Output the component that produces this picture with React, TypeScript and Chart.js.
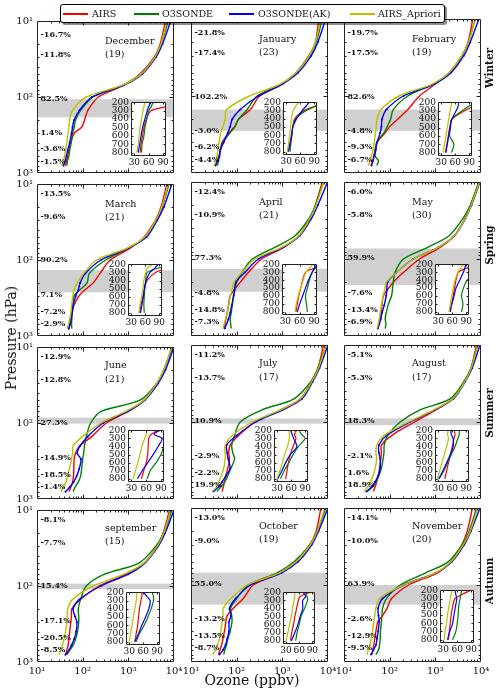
import React, { useEffect, useRef } from "react";
import { Chart, registerables } from "chart.js";
Chart.register(...registerables);

// ---------------- DATA ----------------
const PRESSURE = [10, 20, 30, 50, 70, 100, 150, 200, 250, 300, 400, 500, 600, 700, 800];

const DEC_AIRS = [6500, 5000, 3700, 1800, 800, 220, 130, 110, 95, 65, 55, 50, 47, 44, 42];
const DEC_SONDE = [7500, 5200, 3800, 1900, 750, 170, 90, 70, 65, 60, 56, 52, 50, 46, 45];
const DEC_SONDE_AK = [8500, 5600, 4000, 2000, 800, 160, 85, 65, 60, 57, 52, 47, 44, 41, 38];
const DEC_APRIORI = [7000, 5200, 3800, 1900, 750, 120, 60, 52, 50, 48, 45, 42, 40, 38, 35];

const JAN_AIRS = [6300, 5300, 3800, 2000, 1000, 320, 200, 110, 90, 68, 48, 44, 41, 38, 35];
const JAN_SONDE = [7500, 5500, 4000, 2000, 950, 280, 170, 110, 92, 72, 50, 44, 42, 40, 38];
const JAN_SONDE_AK = [8900, 6000, 4300, 2200, 1000, 300, 120, 80, 72, 64, 52, 44, 42, 38, 34];
const JAN_APRIORI = [7000, 5300, 3900, 2000, 900, 190, 60, 56, 50, 45, 41, 39, 37, 35, 32];

const FEB_AIRS = [6600, 5200, 3800, 2000, 1000, 450, 250, 150, 100, 80, 53, 48, 45, 42, 39];
const FEB_SONDE = [7500, 5300, 3900, 2100, 900, 250, 120, 105, 88, 75, 52, 50, 48, 57, 52];
const FEB_SONDE_AK = [9000, 5800, 4200, 2200, 950, 200, 85, 68, 66, 62, 53, 49, 46, 43, 40];
const FEB_APRIORI = [7500, 5300, 3800, 2000, 850, 160, 65, 53, 51, 49, 46, 43, 40, 37, 34];

const MAR_AIRS = [7000, 5200, 3900, 2200, 1100, 400, 240, 170, 110, 82, 64, 59, 55, 51, 48];
const MAR_SONDE = [7800, 5500, 4100, 2400, 1000, 320, 140, 125, 85, 64, 61, 59, 58, 57, 58];
const MAR_SONDE_AK = [9000, 6000, 4300, 2500, 1000, 250, 115, 88, 80, 70, 62, 58, 56, 53, 50];
const MAR_APRIORI = [7500, 5400, 4000, 2300, 950, 200, 105, 76, 64, 61, 57, 55, 52, 49, 46];

const APR_AIRS = [7500, 5300, 4000, 2300, 1100, 350, 180, 120, 90, 72, 66, 62, 58, 55, 52];
const APR_SONDE = [8000, 5300, 3800, 1900, 700, 220, 130, 100, 92, 86, 80, 76, 72, 74, 76];
const APR_SONDE_AK = [9800, 6000, 4300, 2400, 1050, 300, 150, 96, 90, 86, 78, 72, 66, 60, 55];
const APR_APRIORI = [8000, 5500, 4000, 2300, 1000, 250, 130, 88, 80, 73, 67, 62, 57, 53, 50];

const MAY_AIRS = [9000, 6000, 4500, 2600, 1300, 450, 200, 120, 90, 73, 68, 65, 62, 59, 56];
const MAY_SONDE = [9000, 5800, 4000, 2000, 700, 200, 130, 120, 115, 110, 92, 84, 80, 83, 80];
const MAY_SONDE_AK = [9500, 6200, 4500, 2600, 1200, 330, 140, 90, 87, 84, 76, 68, 64, 59, 55];
const MAY_APRIORI = [9300, 6100, 4500, 2600, 1200, 330, 140, 85, 78, 72, 66, 62, 59, 56, 53];

const JUN_AIRS = [9000, 6000, 4300, 2200, 1000, 330, 160, 85, 70, 65, 64, 63, 60, 55, 50];
const JUN_SONDE = [9500, 6000, 4200, 1800, 260, 150, 120, 110, 105, 100, 95, 90, 80, 68, 62];
const JUN_SONDE_AK = [10000, 6500, 4500, 2300, 1000, 280, 130, 88, 76, 92, 84, 74, 63, 52, 42];
const JUN_APRIORI = [9000, 6000, 4200, 2200, 900, 250, 100, 62, 60, 57, 51, 47, 43, 38, 33];

const JUL_AIRS = [8000, 6000, 4300, 2500, 900, 250, 110, 72, 67, 70, 64, 58, 54, 51, 48];
const JUL_SONDE = [9000, 6000, 4200, 1800, 350, 120, 90, 78, 82, 90, 75, 64, 55, 45, 37];
const JUL_SONDE_AK = [10000, 6500, 4600, 2700, 1000, 260, 100, 60, 62, 65, 72, 58, 48, 40, 31];
const JUL_APRIORI = [9000, 6200, 4400, 2500, 900, 220, 80, 56, 56, 56, 52, 46, 41, 36, 29];

const AUG_AIRS = [8000, 6000, 4300, 2400, 1000, 350, 110, 66, 66, 64, 60, 56, 52, 48, 44];
const AUG_SONDE = [8500, 6000, 4200, 2100, 450, 170, 90, 76, 75, 72, 66, 58, 50, 42, 32];
const AUG_SONDE_AK = [9500, 6400, 4500, 2500, 950, 280, 85, 58, 58, 62, 62, 56, 48, 40, 31];
const AUG_APRIORI = [8500, 6100, 4400, 2400, 900, 260, 75, 52, 50, 52, 48, 43, 38, 33, 28];

const SEP_AIRS = [8000, 5800, 4200, 2200, 900, 230, 90, 58, 57, 55, 52, 50, 48, 45, 42];
const SEP_SONDE = [9000, 6000, 4000, 1700, 300, 120, 90, 80, 82, 82, 77, 70, 62, 52, 45];
const SEP_SONDE_AK = [10000, 6400, 4500, 2300, 1000, 250, 85, 62, 68, 75, 72, 65, 57, 50, 42];
const SEP_APRIORI = [8500, 6000, 4300, 2200, 800, 170, 60, 47, 46, 45, 42, 39, 36, 33, 30];

const OCT_AIRS = [7000, 5500, 4000, 2000, 900, 230, 140, 85, 62, 58, 54, 50, 47, 43, 40];
const OCT_SONDE = [9000, 5800, 4000, 1800, 750, 180, 100, 74, 78, 79, 72, 64, 60, 55, 52];
const OCT_SONDE_AK = [10000, 6200, 4400, 2200, 950, 200, 95, 70, 75, 68, 68, 62, 57, 50, 42];
const OCT_APRIORI = [8500, 5800, 4100, 2000, 850, 170, 75, 51, 50, 48, 45, 42, 38, 34, 30];

const NOV_AIRS = [6500, 5000, 3800, 2200, 1100, 260, 110, 88, 70, 55, 50, 47, 45, 43, 41];
const NOV_SONDE = [8000, 5500, 3900, 1900, 600, 170, 85, 70, 68, 66, 63, 62, 60, 57, 50];
const NOV_SONDE_AK = [9500, 6000, 4300, 2300, 1000, 200, 70, 56, 57, 59, 56, 53, 50, 44, 39];
const NOV_APRIORI = [8500, 5800, 4100, 2200, 1000, 200, 60, 50, 47, 45, 42, 39, 37, 34, 32];

const PCT_DEC = ["-16.7%", "-11.8%", "82.5%", "1.4%", "-3.6%", "-1.5%"];
const PCT_JAN = ["-21.8%", "-17.4%", "102.2%", "-3.0%", "-6.2%", "-4.4%"];
const PCT_FEB = ["-19.7%", "-17.5%", "82.6%", "-4.8%", "-9.3%", "-6.7%"];
const PCT_MAR = ["-13.5%", "-9.6%", "90.2%", "7.1%", "-7.2%", "-2.9%"];
const PCT_APR = ["-12.4%", "-10.9%", "77.3%", "-4.8%", "-14.8%", "-7.3%"];
const PCT_MAY = ["-6.0%", "-5.8%", "59.9%", "-7.6%", "-13.4%", "-6.9%"];
const PCT_JUN = ["-12.9%", "-12.8%", "27.3%", "-14.9%", "-18.5%", "-1.4%"];
const PCT_JUL = ["-11.2%", "-13.7%", "10.9%", "-2.9%", "-2.2%", "19.9%"];
const PCT_AUG = ["-5.1%", "-5.3%", "18.3%", "-2.1%", "1.6%", "18.9%"];
const PCT_SEP = ["-8.1%", "-7.7%", "15.4%", "-17.1%", "-20.5%", "-8.5%"];
const PCT_OCT = ["-13.0%", "-9.0%", "55.0%", "-13.2%", "-13.5%", "-8.7%"];
const PCT_NOV = ["-14.1%", "-10.0%", "63.9%", "-2.6%", "-12.9%", "-9.5%"];

const MONTHS = ["December", "January", "February", "March", "April", "May", "June", "July", "August", "september", "October", "November"];
const COUNTS = [19, 23, 19, 21, 21, 30, 21, 17, 17, 15, 19, 20];
const BAND_TOP = [107, 150, 150, 136, 134, 73, 85, 90, 90, 93, 69, 100];
const BAND_BOTTOM = [185, 284, 284, 266, 266, 218, 102, 105, 110, 110, 180, 180];

const SEASONS = ["Winter", "Spring", "Summer", "Autumn"];
const SERIES_LABELS = ["AIRS", "O3SONDE", "O3SONDE(AK)", "AIRS_Apriori"];
const X_TICKS = [10, 100, 1000, 10000];
const Y_TICKS = [10, 100, 1000];
const INSET_X_TICKS = [30, 60, 90];
const INSET_Y_TICKS = [200, 300, 400, 500, 600, 700, 800];

const PANEL_SERIES = [
  [DEC_AIRS, DEC_SONDE, DEC_SONDE_AK, DEC_APRIORI],
  [JAN_AIRS, JAN_SONDE, JAN_SONDE_AK, JAN_APRIORI],
  [FEB_AIRS, FEB_SONDE, FEB_SONDE_AK, FEB_APRIORI],
  [MAR_AIRS, MAR_SONDE, MAR_SONDE_AK, MAR_APRIORI],
  [APR_AIRS, APR_SONDE, APR_SONDE_AK, APR_APRIORI],
  [MAY_AIRS, MAY_SONDE, MAY_SONDE_AK, MAY_APRIORI],
  [JUN_AIRS, JUN_SONDE, JUN_SONDE_AK, JUN_APRIORI],
  [JUL_AIRS, JUL_SONDE, JUL_SONDE_AK, JUL_APRIORI],
  [AUG_AIRS, AUG_SONDE, AUG_SONDE_AK, AUG_APRIORI],
  [SEP_AIRS, SEP_SONDE, SEP_SONDE_AK, SEP_APRIORI],
  [OCT_AIRS, OCT_SONDE, OCT_SONDE_AK, OCT_APRIORI],
  [NOV_AIRS, NOV_SONDE, NOV_SONDE_AK, NOV_APRIORI],
];
const PANEL_PCT = [PCT_DEC, PCT_JAN, PCT_FEB, PCT_MAR, PCT_APR, PCT_MAY, PCT_JUN, PCT_JUL, PCT_AUG, PCT_SEP, PCT_OCT, PCT_NOV];

// ---------------- STYLE / LAYOUT ----------------
const COLORS = ["#ff0000", "#008000", "#0000ff", "#bfbf00"];
const FONT = "'DejaVu Serif', serif";
const COL_LEFT = [37, 191, 344];
const ROW_TOP = [19, 182, 345, 508];
const PW = 137;
const PH = 154;
const AXW = 30, AXH = 16, PADT = 8, PADR = 12;
const IAXW = 20, IAXH = 12, IPT = 5, IPR = 6;
const INSET_BOX = [
  [131, 100, 35, 56], [283, 100, 34, 55], [438, 100, 34, 56],
  [128, 262, 34, 54], [282, 262, 35, 53], [435, 262, 34, 53],
  [128, 428, 36, 54], [274, 428, 34, 54], [435, 428, 34, 54],
  [126, 590, 34, 55], [283, 590, 32, 54], [440, 588, 34, 55],
];
const PCT_OFF = [[14, 34, 78, 112, 128, 141], [10, 33, 76, 111, 128, 140], [10, 33, 76, 111, 128, 140], [10, 33, 76, 111, 128, 140]];
const MONTH_OFF = [[21, 34], [21, 34], [19, 33], [19, 32]];
const SEASON_Y = [68, 245, 413, 581];
const SUP: Record<number, string> = { 10: "10\u00b9", 100: "10\u00b2", 1000: "10\u00b3", 10000: "10\u2074" };

function logMinor(lo: number, hi: number) {
  const out: number[] = [];
  for (let d = lo; d < hi; d *= 10) for (let k = 2; k <= 9; k++) out.push(d * k);
  return out;
}

function framePlugin(xMaj: number[], xMin: number[], yMaj: number[], yMin: number[], majLen: number, minLen: number) {
  return {
    id: "frame",
    afterDatasetsDraw(chart: any) {
      const { ctx, chartArea: a, scales } = chart;
      const L = Math.round(a.left) + 0.5, R = Math.round(a.right) - 0.5;
      const T = Math.round(a.top) + 0.5, B = Math.round(a.bottom) - 0.5;
      ctx.save();
      ctx.strokeStyle = "#222";
      ctx.lineWidth = 1;
      ctx.beginPath();
      ctx.rect(L, T, R - L, B - T);
      const tx = (v: number, len: number) => {
        const px = Math.round(scales.x.getPixelForValue(v)) + 0.5;
        if (px <= L + 1 || px >= R - 1) return;
        ctx.moveTo(px, B); ctx.lineTo(px, B - len);
        ctx.moveTo(px, T); ctx.lineTo(px, T + len);
      };
      const ty = (v: number, len: number) => {
        const py = Math.round(scales.y.getPixelForValue(v)) + 0.5;
        if (py <= T + 1 || py >= B - 1) return;
        ctx.moveTo(L, py); ctx.lineTo(L + len, py);
        ctx.moveTo(R, py); ctx.lineTo(R - len, py);
      };
      xMaj.forEach((v) => tx(v, majLen));
      xMin.forEach((v) => tx(v, minLen));
      yMaj.forEach((v) => ty(v, majLen));
      yMin.forEach((v) => ty(v, minLen));
      ctx.stroke();
      ctx.restore();
    },
  };
}

function makeDatasets(series: number[][], inset: boolean) {
  return series.map((vals, i) => ({
    label: SERIES_LABELS[i],
    data: vals.map((v, k) => ({ x: v, y: PRESSURE[k] })),
    showLine: true,
    borderColor: COLORS[i],
    backgroundColor: COLORS[i],
    borderWidth: inset ? 1.2 : 1.4,
    pointRadius: !inset && i === 2 ? 1 : 0,
    pointBorderWidth: 0,
    tension: 0.3,
    order: 3 - i,
  }));
}

function Panel({ idx }: { idx: number }) {
  const mainRef = useRef<HTMLCanvasElement>(null);
  const insetRef = useRef<HTMLCanvasElement>(null);
  const row = Math.floor(idx / 3);
  const col = idx % 3;
  const [bx, by, bw, bh] = INSET_BOX[idx];

  useEffect(() => {
    const series = PANEL_SERIES[idx];
    const pct = PANEL_PCT[idx];
    const band = {
      id: "band",
      beforeDatasetsDraw(chart: any) {
        const { ctx, chartArea: a, scales } = chart;
        const y1 = scales.y.getPixelForValue(BAND_TOP[idx]);
        const y2 = scales.y.getPixelForValue(BAND_BOTTOM[idx]);
        ctx.save();
        ctx.fillStyle = "#d0d0d0";
        ctx.fillRect(a.left, y1, a.right - a.left, y2 - y1);
        ctx.restore();
      },
    };
    const texts = {
      id: "texts",
      afterDatasetsDraw(chart: any) {
        const { ctx, chartArea: a } = chart;
        ctx.save();
        ctx.fillStyle = "#111";
        ctx.textBaseline = "middle";
        ctx.textAlign = "left";
        ctx.font = `bold 8px ${FONT}`;
        pct.forEach((t, k) => ctx.fillText(t, a.left + 3.5, a.top + PCT_OFF[row][k]));
        ctx.font = `9.5px ${FONT}`;
        ctx.fillText(MONTHS[idx], a.left + 68, a.top + MONTH_OFF[row][0]);
        ctx.fillText(`(${COUNTS[idx]})`, a.left + 68, a.top + MONTH_OFF[row][1]);
        ctx.restore();
      },
    };
    const main = new Chart(mainRef.current as HTMLCanvasElement, {
      type: "scatter",
      data: { datasets: makeDatasets(series, false) as any },
      options: {
        animation: false,
        responsive: false,
        devicePixelRatio: 1,
        events: [],
        layout: { padding: { top: PADT, right: PADR, left: 0, bottom: 0 }, autoPadding: false } as any,
        plugins: { legend: { display: false }, tooltip: { enabled: false } },
        scales: {
          x: {
            type: "logarithmic",
            min: 10,
            max: 10000,
            position: "bottom",
            grid: { display: false, drawTicks: false },
            border: { display: false },
            afterBuildTicks: (s: any) => { s.ticks = X_TICKS.map((v) => ({ value: v })); },
            afterFit: (s: any) => { s.height = AXH; },
            ticks: {
              display: row === 3,
              autoSkip: false,
              maxRotation: 0,
              padding: 3,
              color: "#111",
              font: { family: FONT, size: 10 },
              callback: (v: any) => SUP[Number(v)] ?? "",
            },
          },
          y: {
            type: "logarithmic",
            min: 10,
            max: 1000,
            reverse: true,
            position: "left",
            grid: { display: false, drawTicks: false },
            border: { display: false },
            afterBuildTicks: (s: any) => { s.ticks = Y_TICKS.map((v) => ({ value: v })); },
            afterFit: (s: any) => { s.width = AXW; },
            ticks: {
              display: col === 0,
              autoSkip: false,
              padding: 4,
              color: "#111",
              font: { family: FONT, size: 10 },
              callback: (v: any) => SUP[Number(v)] ?? "",
            },
          },
        },
      } as any,
      plugins: [band, framePlugin(X_TICKS, logMinor(10, 10000), Y_TICKS, logMinor(10, 1000), 4, 2), texts],
    });

    const bg = {
      id: "bg",
      beforeDatasetsDraw(chart: any) {
        const { ctx, chartArea: a } = chart;
        ctx.save();
        ctx.fillStyle = "#fff";
        ctx.fillRect(a.left, a.top, a.right - a.left, a.bottom - a.top);
        ctx.restore();
      },
    };
    const inset = new Chart(insetRef.current as HTMLCanvasElement, {
      type: "scatter",
      data: { datasets: makeDatasets(series, true) as any },
      options: {
        animation: false,
        responsive: false,
        devicePixelRatio: 1,
        events: [],
        layout: { padding: { top: IPT, right: IPR, left: 0, bottom: 0 }, autoPadding: false } as any,
        plugins: { legend: { display: false }, tooltip: { enabled: false } },
        scales: {
          x: {
            type: "linear",
            min: 23,
            max: 96,
            grid: { display: false, drawTicks: false },
            border: { display: false },
            afterBuildTicks: (s: any) => { s.ticks = INSET_X_TICKS.map((v) => ({ value: v })); },
            afterFit: (s: any) => { s.height = IAXH; },
            ticks: { autoSkip: false, maxRotation: 0, padding: 1, color: "#111", font: { family: FONT, size: 9 } },
          },
          y: {
            type: "linear",
            min: 200,
            max: 840,
            reverse: true,
            grid: { display: false, drawTicks: false },
            border: { display: false },
            afterBuildTicks: (s: any) => { s.ticks = INSET_Y_TICKS.map((v) => ({ value: v })); },
            afterFit: (s: any) => { s.width = IAXW; },
            ticks: { autoSkip: false, padding: 2, color: "#111", font: { family: FONT, size: 9 } },
          },
        },
      } as any,
      plugins: [bg, framePlugin(INSET_X_TICKS, [], INSET_Y_TICKS, [], 2, 0)],
    });
    return () => {
      main.destroy();
      inset.destroy();
    };
  }, [idx]);

  return (
    <>
      <canvas
        ref={mainRef}
        width={AXW + PW + PADR}
        height={PADT + PH + AXH}
        style={{ position: "absolute", left: COL_LEFT[col] - AXW, top: ROW_TOP[row] - PADT, zIndex: 1 }}
      />
      <canvas
        ref={insetRef}
        width={IAXW + bw + IPR}
        height={IPT + bh + IAXH}
        style={{ position: "absolute", left: bx - IAXW, top: by - IPT, zIndex: 2 }}
      />
    </>
  );
}

const LEGEND_LINE_X = [2, 73, 168, 289];
const LEGEND_TEXT_X = [31, 101, 197, 317];

function rotated(text: string, x: number, y: number, style: React.CSSProperties) {
  return (
    <div
      key={text}
      style={{
        position: "absolute",
        left: x,
        top: y,
        transform: "translate(-50%, -50%) rotate(-90deg)",
        whiteSpace: "nowrap",
        fontFamily: FONT,
        color: "#111",
        zIndex: 3,
        ...style,
      }}
    >
      {text}
    </div>
  );
}

export default function App() {
  return (
    <div style={{ position: "absolute", left: 0, top: 0, width: 500, height: 689, background: "#fff", overflow: "hidden" }}>
      {MONTHS.map((_, i) => (
        <Panel key={i} idx={i} />
      ))}
      <div
        style={{
          position: "absolute",
          left: 60,
          top: 4,
          width: 383,
          height: 17,
          border: "1px solid #000",
          borderRadius: 3,
          background: "#fff",
          boxShadow: "2px 2px 0 rgba(0,0,0,0.45)",
          zIndex: 5,
        }}
      >
        {SERIES_LABELS.map((lab, i) => (
          <React.Fragment key={lab}>
            <div style={{ position: "absolute", left: LEGEND_LINE_X[i], top: 8, width: 25, height: 1.5, background: COLORS[i] }} />
            <div
              style={{
                position: "absolute",
                left: LEGEND_TEXT_X[i],
                top: 0,
                height: 17,
                lineHeight: "17px",
                fontFamily: FONT,
                fontSize: 9.5,
                color: "#111",
                whiteSpace: "nowrap",
              }}
            >
              {lab}
            </div>
          </React.Fragment>
        ))}
      </div>
      {SEASONS.map((s, i) => rotated(s, 489, SEASON_Y[i], { fontWeight: "bold", fontSize: 10.5 }))}
      {rotated("Pressure (hPa)", 11, 338, { fontSize: 14 })}
      <div
        style={{
          position: "absolute",
          left: 252,
          top: 680,
          transform: "translate(-50%, -50%)",
          whiteSpace: "nowrap",
          fontFamily: FONT,
          fontSize: 14,
          color: "#111",
          zIndex: 3,
        }}
      >
        Ozone (ppbv)
      </div>
    </div>
  );
}
